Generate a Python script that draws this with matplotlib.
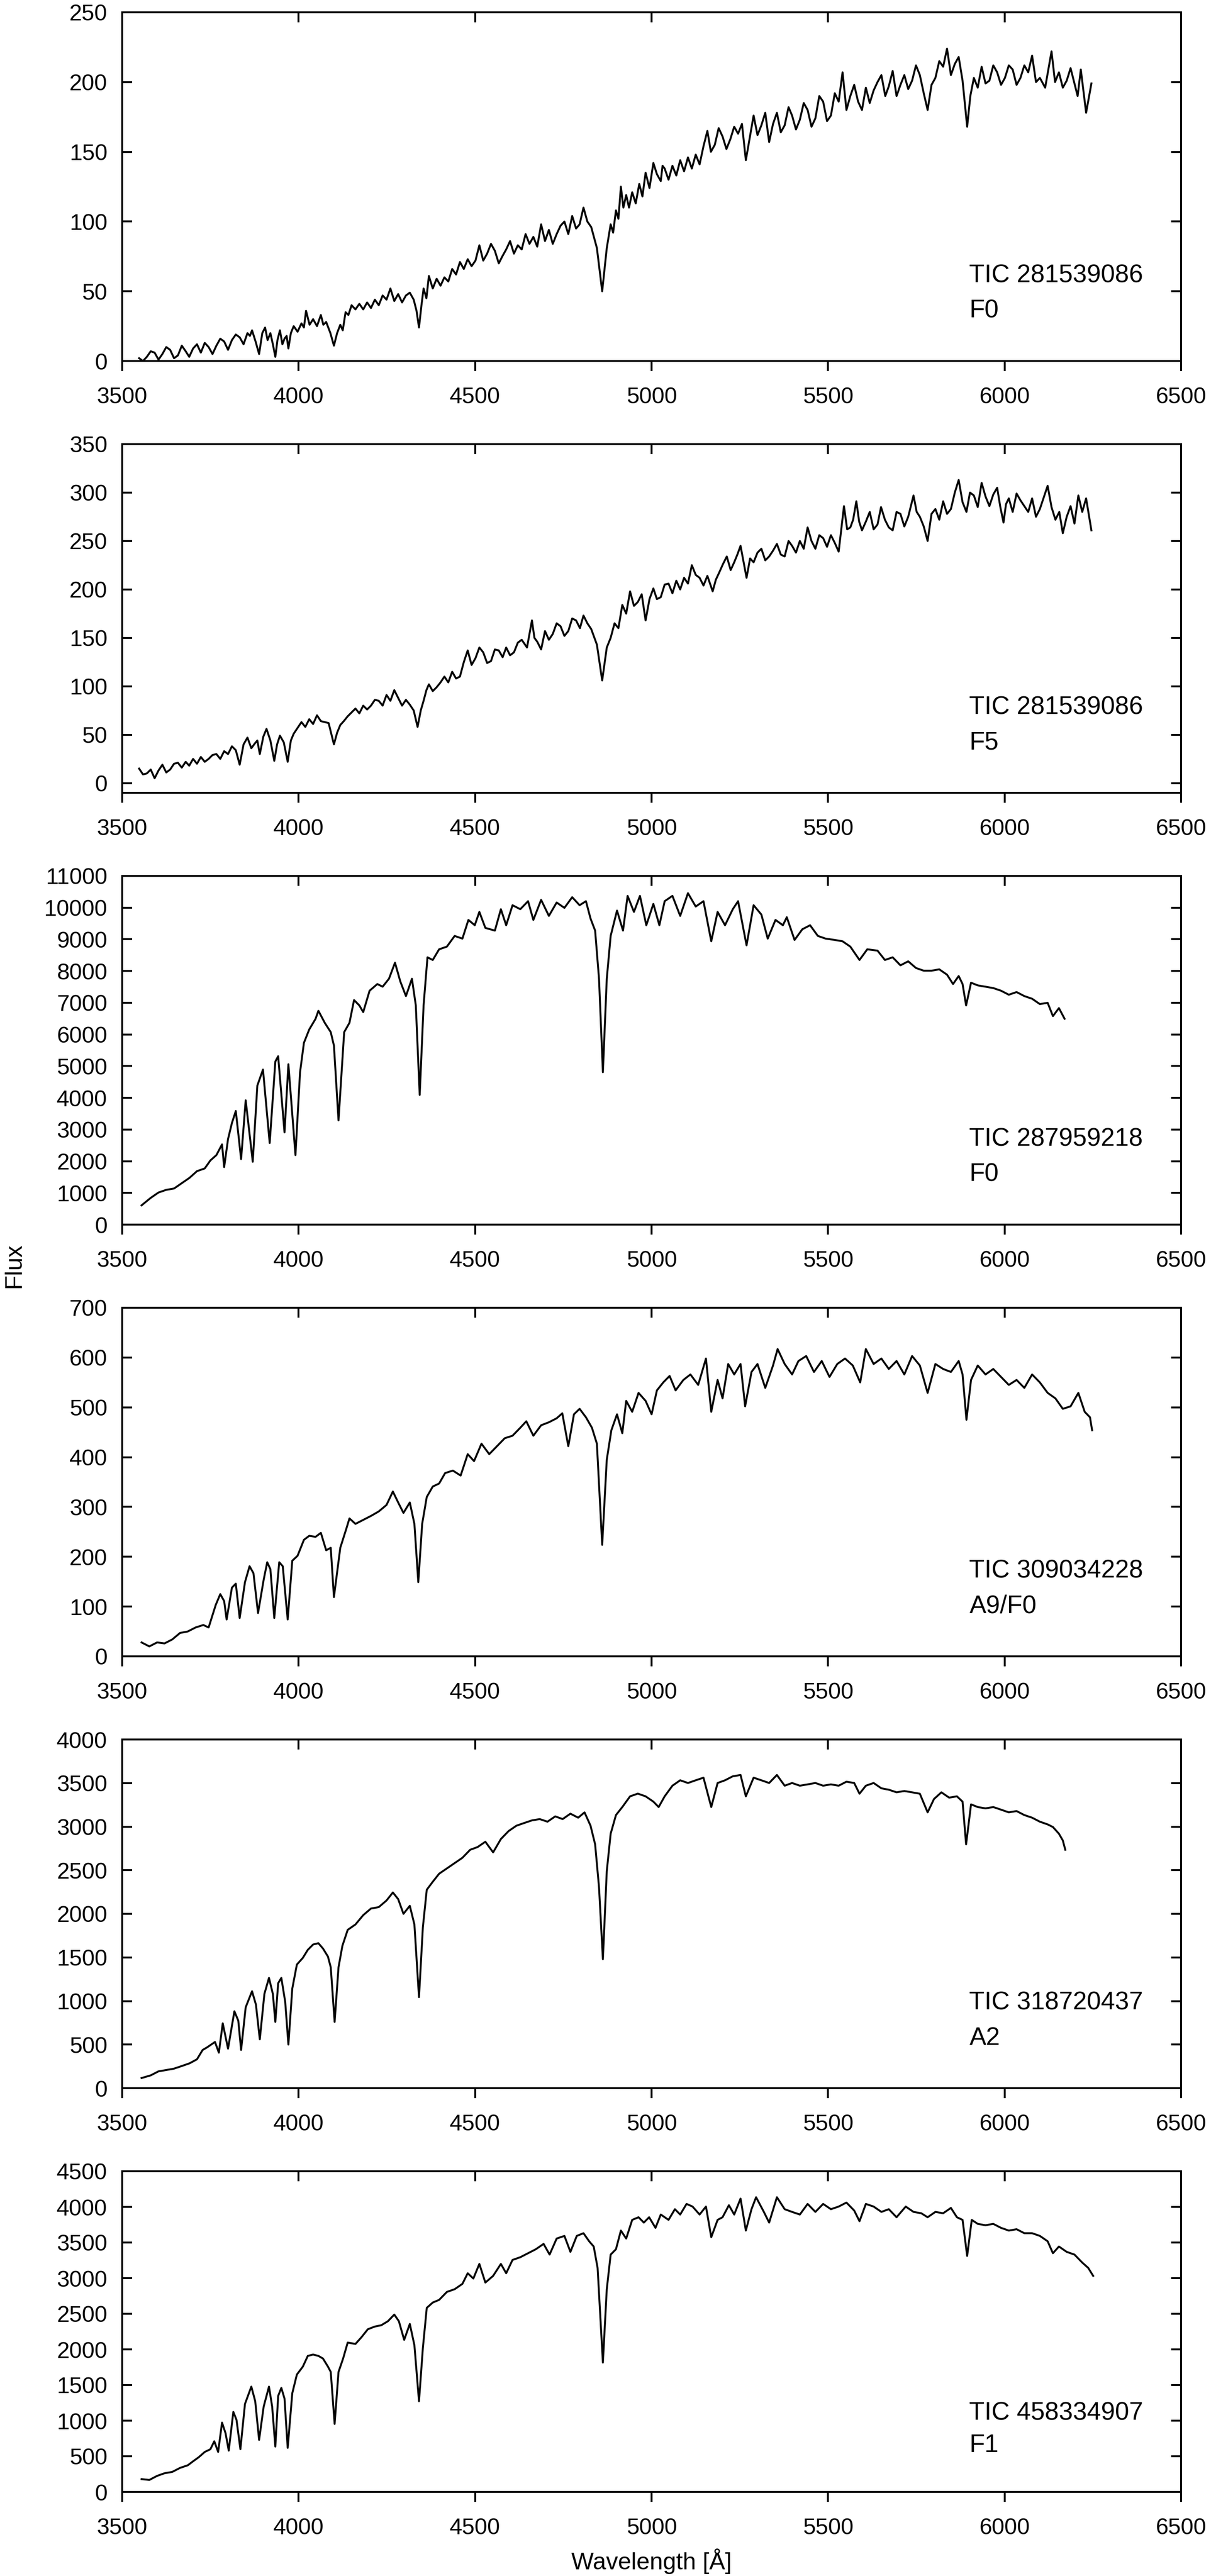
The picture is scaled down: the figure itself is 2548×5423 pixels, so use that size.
import matplotlib
matplotlib.use("Agg")
import matplotlib.pyplot as plt

# ---------------- Data ----------------
XTICKS = [3500, 4000, 4500, 5000, 5500, 6000, 6500]

wave_1 = [3548, 3559, 3570, 3581, 3592, 3603, 3614, 3625, 3636, 3647,
          3658, 3669, 3680, 3690, 3701, 3712, 3723, 3734, 3745, 3756,
          3767, 3778, 3789, 3800, 3811, 3822, 3833, 3844, 3855, 3862,
          3868, 3878, 3888, 3897, 3905, 3912, 3920, 3927, 3934, 3940,
          3947, 3954, 3960, 3966, 3971, 3978, 3986, 3997, 4008, 4015,
          4021, 4031, 4041, 4052, 4063, 4070, 4078, 4090, 4100, 4109,
          4118, 4125, 4133, 4141, 4150, 4161, 4172, 4183, 4194, 4205,
          4216, 4227, 4238, 4249, 4260, 4271, 4282, 4293, 4304, 4315,
          4326, 4334, 4341, 4348, 4354, 4362, 4369, 4380, 4391, 4402,
          4413, 4424, 4435, 4446, 4457, 4468, 4479, 4490, 4501, 4512,
          4523, 4534, 4545, 4556, 4567, 4577, 4588, 4599, 4610, 4621,
          4632, 4643, 4654, 4665, 4676, 4687, 4698, 4709, 4720, 4731,
          4742, 4753, 4764, 4775, 4786, 4796, 4807, 4818, 4829, 4845,
          4860, 4873, 4884, 4891, 4899, 4906, 4913, 4920, 4928, 4936,
          4945, 4955, 4965, 4974, 4983, 4994, 5005, 5015, 5026, 5031,
          5037, 5048, 5059, 5070, 5081, 5092, 5103, 5114, 5125, 5136,
          5147, 5158, 5168, 5179, 5190, 5201, 5212, 5223, 5234, 5245,
          5256, 5267, 5278, 5289, 5300, 5311, 5322, 5333, 5344, 5355,
          5366, 5377, 5388, 5398, 5409, 5420, 5431, 5442, 5453, 5464,
          5475, 5486, 5497, 5508, 5519, 5530, 5541, 5552, 5563, 5574,
          5585, 5596, 5607, 5618, 5629, 5640, 5651, 5662, 5672, 5683,
          5694, 5705, 5716, 5727, 5738, 5749, 5760, 5771, 5782, 5793,
          5804, 5815, 5826, 5837, 5848, 5859, 5870, 5881, 5894, 5903,
          5913, 5924, 5935, 5946, 5957, 5968, 5979, 5990, 6001, 6012,
          6023, 6034, 6045, 6056, 6067, 6078, 6089, 6100, 6115, 6133,
          6143, 6154, 6165, 6176, 6187, 6198, 6207, 6216, 6231, 6246]
flux_1 = [2, 0, 3, 7, 6, 1, 5, 10, 8, 2,
          4, 11, 7, 3, 9, 12, 6, 13, 10, 5,
          11, 16, 14, 8, 15, 19, 17, 12, 20, 18,
          22, 14, 5, 20, 24, 15, 20, 12, 3, 15,
          22, 12, 16, 18, 9, 20, 25, 21, 27, 24,
          36, 26, 30, 25, 33, 26, 28, 20, 11, 20,
          26, 22, 35, 33, 40, 37, 41, 37, 42, 38,
          44, 40, 47, 44, 52, 43, 48, 42, 47, 49,
          44, 36, 24, 40, 52, 45, 61, 52, 59, 54,
          60, 57, 66, 62, 71, 66, 73, 68, 72, 83,
          72, 77, 84, 79, 70, 75, 80, 86, 77, 83,
          80, 91, 84, 89, 82, 98, 86, 94, 84, 91,
          97, 100, 91, 104, 95, 98, 110, 100, 96, 81,
          50, 81, 98, 92, 108, 102, 125, 110, 119, 110,
          121, 113, 127, 118, 135, 124, 142, 134, 129, 140,
          138, 130, 140, 133, 144, 136, 146, 138, 148, 141,
          154, 165, 150, 155, 167, 161, 152, 159, 168, 163,
          170, 144, 160, 176, 162, 169, 178, 157, 170, 178,
          164, 169, 182, 176, 166, 173, 185, 180, 168, 174,
          190, 186, 172, 176, 192, 186, 207, 180, 190, 198,
          186, 180, 196, 185, 194, 200, 205, 190, 197, 208,
          190, 198, 205, 195, 201, 212, 205, 192, 180, 198,
          203, 215, 211, 224, 205, 213, 218, 201, 168, 190,
          203, 196, 211, 199, 201, 212, 207, 198, 203, 212,
          209, 198, 203, 212, 207, 219, 200, 203, 196, 222,
          200, 207, 196, 201, 210, 199, 190, 209, 178, 199]

wave_2 = [3548, 3559, 3570, 3581, 3592, 3603, 3614, 3625, 3636, 3647,
          3658, 3669, 3680, 3690, 3701, 3712, 3723, 3734, 3745, 3756,
          3767, 3778, 3789, 3800, 3811, 3822, 3833, 3844, 3855, 3866,
          3876, 3883, 3890, 3900, 3909, 3920, 3931, 3939, 3947, 3958,
          3969, 3978, 3986, 3997, 4008, 4019, 4030, 4041, 4052, 4063,
          4074, 4085, 4100, 4109, 4118, 4128, 4139, 4150, 4161, 4172,
          4183, 4194, 4205, 4216, 4227, 4238, 4249, 4260, 4271, 4282,
          4293, 4304, 4315, 4326, 4337, 4346, 4354, 4362, 4369, 4380,
          4391, 4402, 4413, 4424, 4435, 4446, 4457, 4468, 4479, 4490,
          4501, 4512, 4523, 4534, 4545, 4556, 4567, 4578, 4588, 4599,
          4610, 4621, 4632, 4647, 4661, 4668, 4676, 4687, 4698, 4709,
          4720, 4731, 4742, 4753, 4764, 4775, 4786, 4797, 4807, 4818,
          4829, 4845, 4860, 4873, 4884, 4895, 4906, 4917, 4928, 4939,
          4950, 4961, 4972, 4983, 4994, 5005, 5015, 5026, 5037, 5048,
          5059, 5070, 5081, 5092, 5103, 5114, 5125, 5136, 5147, 5158,
          5173, 5182, 5191, 5202, 5213, 5224, 5234, 5243, 5252, 5269,
          5279, 5289, 5300, 5311, 5322, 5333, 5344, 5355, 5366, 5377,
          5388, 5398, 5409, 5420, 5431, 5442, 5453, 5464, 5475, 5486,
          5497, 5508, 5519, 5530, 5545, 5554, 5563, 5571, 5580, 5588,
          5596, 5607, 5618, 5629, 5640, 5650, 5661, 5672, 5683, 5694,
          5705, 5716, 5727, 5742, 5751, 5760, 5771, 5782, 5793, 5804,
          5815, 5826, 5837, 5848, 5859, 5870, 5881, 5892, 5902, 5913,
          5924, 5935, 5946, 5957, 5968, 5979, 5988, 5997, 6004, 6012,
          6023, 6034, 6045, 6056, 6067, 6078, 6089, 6100, 6111, 6122,
          6133, 6144, 6155, 6165, 6176, 6187, 6198, 6209, 6220, 6231,
          6246]
flux_2 = [15, 9, 10, 14, 5, 13, 19, 11, 14, 20,
          21, 16, 22, 18, 25, 20, 27, 22, 25, 29,
          30, 25, 33, 30, 38, 34, 19, 40, 47, 36,
          41, 44, 30, 48, 56, 44, 23, 40, 49, 42,
          22, 44, 51, 57, 63, 58, 66, 61, 70, 64,
          63, 62, 40, 52, 60, 64, 69, 73, 77, 72,
          80, 76, 80, 86, 85, 80, 91, 85, 96, 88,
          80, 86, 81, 75, 58, 75, 85, 96, 102, 95,
          99, 104, 110, 104, 115, 108, 110, 125, 137, 122,
          129, 140, 135, 124, 126, 138, 137, 130, 140, 132,
          135, 145, 148, 140, 168, 150, 146, 138, 157, 148,
          154, 165, 162, 152, 157, 170, 168, 160, 173, 165,
          159, 143, 106, 140, 150, 165, 160, 184, 175, 198,
          183, 187, 195, 168, 190, 201, 190, 192, 205, 206,
          196, 209, 200, 212, 206, 225, 215, 212, 204, 214,
          198, 210, 217, 226, 234, 220, 228, 236, 245, 212,
          232, 228, 238, 242, 230, 234, 240, 247, 236, 234,
          250, 245, 238, 250, 242, 264, 250, 242, 256, 253,
          244, 256, 248, 239, 286, 262, 264, 272, 291, 270,
          261, 270, 280, 262, 267, 285, 272, 264, 261, 280,
          278, 265, 275, 297, 280, 275, 265, 250, 278, 283,
          272, 291, 278, 283, 300, 313, 290, 280, 300, 297,
          285, 310, 296, 286, 298, 305, 285, 269, 288, 294,
          280, 299, 292, 286, 280, 294, 275, 283, 295, 307,
          285, 272, 280, 258, 275, 286, 268, 297, 280, 294,
          261]

wave_3 = [3555, 3581, 3603, 3625, 3647, 3669, 3691, 3712, 3734, 3750, 3767, 3783, 3789, 3800, 3811,
          3822, 3837, 3850, 3870, 3883, 3899, 3918, 3934, 3942, 3960, 3971, 3991, 4004, 4015, 4030,
          4048, 4056, 4074, 4091, 4100, 4113, 4129, 4144, 4157, 4172, 4183, 4201, 4223, 4238, 4256,
          4273, 4288, 4304, 4321, 4332, 4343, 4354, 4365, 4380, 4398, 4420, 4442, 4464, 4481, 4499,
          4512, 4529, 4556, 4573, 4588, 4606, 4628, 4650, 4665, 4687, 4709, 4731, 4753, 4775, 4796,
          4814, 4827, 4840, 4851, 4862, 4873, 4884, 4902, 4919, 4932, 4950, 4967, 4985, 5005, 5022,
          5037, 5059, 5081, 5103, 5125, 5147, 5169, 5187, 5208, 5230, 5245, 5269, 5289, 5311, 5329,
          5351, 5372, 5383, 5405, 5427, 5449, 5471, 5493, 5519, 5541, 5563, 5589, 5611, 5640, 5661,
          5683, 5705, 5727, 5749, 5771, 5793, 5815, 5837, 5854, 5870, 5881, 5891, 5905, 5924, 5946,
          5968, 5990, 6012, 6034, 6056, 6078, 6100, 6122, 6137, 6154, 6170]
flux_3 = [607, 843, 1012, 1096, 1138, 1307, 1476, 1686, 1771, 2024, 2192, 2530, 1813, 2698, 3204,
          3584, 2066, 3921, 1982, 4385, 4891, 2572, 5144, 5312, 2909, 5059, 2192, 4806, 5734, 6155,
          6493, 6746, 6366, 6071, 5649, 3288, 6071, 6366, 7083, 6914, 6703, 7378, 7589, 7505, 7757,
          8263, 7673, 7209, 7757, 6914, 4090, 6914, 8432, 8348, 8685, 8769, 9107, 9022, 9612, 9444,
          9865, 9360, 9275, 9950, 9444, 10076, 9950, 10203, 9612, 10245, 9739, 10161, 9992, 10329, 10076,
          10203, 9655, 9275, 7757, 4806, 7757, 9107, 9907, 9275, 10371, 9865, 10371, 9444, 10118, 9444,
          10203, 10371, 9739, 10456, 10034, 10203, 8938, 9865, 9444, 9950, 10203, 8811, 10076, 9781, 9022,
          9612, 9444, 9697, 8980, 9317, 9444, 9107, 9022, 8980, 8938, 8769, 8348, 8685, 8643, 8348,
          8432, 8179, 8306, 8095, 8010, 8010, 8053, 7884, 7589, 7842, 7589, 6914, 7631, 7547, 7505,
          7462, 7378, 7252, 7336, 7209, 7125, 6956, 6998, 6577, 6830, 6493]

wave_4 = [3555, 3577, 3599, 3620, 3642, 3664, 3686, 3708, 3730, 3745, 3765, 3778, 3789, 3796, 3811,
          3822, 3833, 3848, 3861, 3872, 3885, 3901, 3911, 3920, 3931, 3945, 3955, 3969, 3982, 3997,
          4015, 4030, 4048, 4063, 4078, 4091, 4100, 4118, 4135, 4144, 4161, 4183, 4205, 4227, 4249,
          4267, 4282, 4297, 4315, 4328, 4339, 4350, 4363, 4380, 4398, 4415, 4437, 4459, 4479, 4497,
          4518, 4540, 4562, 4584, 4606, 4628, 4645, 4665, 4687, 4709, 4731, 4747, 4764, 4780, 4796,
          4814, 4831, 4845, 4860, 4873, 4886, 4902, 4917, 4928, 4945, 4963, 4983, 5000, 5015, 5033,
          5051, 5068, 5090, 5110, 5132, 5154, 5169, 5187, 5201, 5217, 5234, 5252, 5265, 5283, 5300,
          5322, 5344, 5357, 5377, 5398, 5416, 5438, 5460, 5482, 5504, 5526, 5548, 5570, 5591, 5607,
          5629, 5651, 5672, 5694, 5716, 5738, 5760, 5782, 5804, 5826, 5848, 5870, 5881, 5892, 5905,
          5924, 5946, 5968, 5990, 6012, 6034, 6056, 6078, 6100, 6122, 6144, 6165, 6187, 6209, 6227,
          6242, 6248]
flux_4 = [28, 20, 28, 26, 34, 47, 50, 58, 63, 58, 103, 125, 111, 74, 138,
          146, 77, 149, 181, 167, 87, 154, 189, 175, 77, 189, 181, 74, 192, 202,
          234, 242, 240, 248, 213, 218, 119, 218, 256, 277, 266, 274, 282, 291, 304,
          331, 309, 288, 309, 266, 149, 266, 320, 341, 347, 368, 373, 363, 406, 392,
          427, 406, 422, 438, 443, 459, 472, 443, 464, 470, 478, 488, 422, 486, 497,
          480, 459, 427, 224, 395, 454, 486, 448, 513, 491, 529, 513, 486, 534, 550,
          563, 534, 555, 566, 545, 598, 491, 555, 518, 587, 566, 587, 502, 571, 587,
          539, 584, 617, 587, 566, 593, 603, 571, 593, 561, 587, 598, 584, 550, 617,
          587, 598, 577, 593, 566, 603, 584, 529, 587, 577, 571, 593, 566, 475, 555,
          584, 566, 577, 561, 545, 555, 539, 566, 550, 529, 518, 497, 502, 529, 491,
          480, 454]

wave_5 = [3555, 3581, 3603, 3625, 3647, 3669, 3691, 3712, 3728, 3741, 3763, 3774, 3785, 3800, 3818,
          3829, 3837, 3850, 3868, 3879, 3890, 3903, 3916, 3927, 3934, 3942, 3951, 3962, 3971, 3982,
          3995, 4012, 4026, 4041, 4056, 4069, 4083, 4091, 4102, 4113, 4124, 4139, 4161, 4183, 4205,
          4227, 4249, 4267, 4282, 4297, 4315, 4328, 4341, 4352, 4363, 4380, 4398, 4420, 4442, 4464,
          4486, 4507, 4529, 4551, 4573, 4595, 4617, 4639, 4661, 4683, 4705, 4727, 4748, 4770, 4792,
          4810, 4827, 4840, 4851, 4862, 4873, 4884, 4899, 4917, 4939, 4961, 4983, 5005, 5020, 5037,
          5059, 5081, 5103, 5125, 5147, 5169, 5187, 5208, 5230, 5252, 5267, 5289, 5311, 5333, 5355,
          5377, 5398, 5420, 5442, 5464, 5486, 5508, 5530, 5552, 5574, 5589, 5607, 5629, 5651, 5672,
          5694, 5716, 5738, 5760, 5782, 5800, 5821, 5843, 5865, 5881, 5891, 5905, 5924, 5946, 5968,
          5990, 6012, 6034, 6056, 6078, 6100, 6122, 6137, 6154, 6165, 6172]
flux_5 = [116, 147, 193, 208, 224, 254, 285, 331, 438, 469, 530, 407, 744, 453, 882,
          775, 438, 928, 1112, 959, 560, 1081, 1265, 1081, 760, 1204, 1265, 989, 500, 1142,
          1418, 1495, 1587, 1648, 1663, 1602, 1510, 1387, 760, 1387, 1633, 1816, 1878, 1985, 2061,
          2077, 2153, 2245, 2169, 2000, 2092, 1878, 1044, 1847, 2276, 2368, 2460, 2521, 2582, 2643,
          2735, 2766, 2827, 2705, 2858, 2950, 3011, 3042, 3072, 3087, 3057, 3118, 3087, 3149, 3103,
          3164, 3011, 2797, 2306, 1479, 2490, 2919, 3133, 3225, 3348, 3379, 3348, 3287, 3225, 3348,
          3470, 3532, 3501, 3532, 3562, 3225, 3501, 3532, 3578, 3593, 3348, 3562, 3532, 3501, 3593,
          3470, 3501, 3470, 3485, 3501, 3470, 3485, 3470, 3516, 3501, 3378, 3470, 3501, 3440, 3424,
          3394, 3409, 3394, 3378, 3164, 3317, 3394, 3333, 3348, 3287, 2797, 3256, 3225, 3210, 3225,
          3195, 3164, 3179, 3133, 3103, 3057, 3026, 2996, 2919, 2842, 2735]

wave_6 = [3555, 3577, 3599, 3620, 3642, 3664, 3686, 3701, 3717, 3734, 3750, 3761, 3772, 3783, 3793,
          3802, 3815, 3824, 3835, 3848, 3866, 3877, 3888, 3901, 3916, 3925, 3934, 3942, 3951, 3960,
          3969, 3982, 3995, 4012, 4026, 4041, 4056, 4069, 4083, 4091, 4102, 4113, 4126, 4139, 4161,
          4178, 4196, 4216, 4234, 4253, 4271, 4284, 4299, 4315, 4328, 4341, 4352, 4363, 4380, 4398,
          4420, 4442, 4464, 4479, 4495, 4512, 4529, 4551, 4573, 4588, 4606, 4628, 4650, 4672, 4694,
          4711, 4731, 4753, 4770, 4788, 4807, 4823, 4836, 4847, 4862, 4873, 4884, 4899, 4913, 4928,
          4945, 4963, 4978, 4993, 5011, 5026, 5048, 5066, 5081, 5099, 5116, 5136, 5154, 5169, 5187,
          5201, 5219, 5234, 5252, 5267, 5283, 5296, 5318, 5333, 5355, 5377, 5398, 5420, 5442, 5464,
          5486, 5508, 5530, 5552, 5574, 5589, 5607, 5629, 5651, 5672, 5694, 5720, 5742, 5764, 5782,
          5804, 5826, 5848, 5865, 5881, 5894, 5907, 5924, 5946, 5968, 5990, 6012, 6034, 6056, 6078,
          6100, 6122, 6137, 6154, 6176, 6198, 6220, 6237, 6251]
flux_6 = [180, 168, 225, 262, 281, 337, 374, 430, 487, 561, 599, 711, 561, 973, 823,
          580, 1123, 1011, 599, 1235, 1478, 1273, 730, 1198, 1478, 1198, 636, 1347, 1460, 1310,
          618, 1385, 1647, 1759, 1909, 1928, 1909, 1872, 1759, 1684, 954, 1684, 1872, 2096, 2077,
          2171, 2283, 2321, 2339, 2396, 2489, 2396, 2134, 2358, 2059, 1273, 2021, 2583, 2658, 2695,
          2807, 2845, 2920, 3069, 2995, 3200, 2938, 3032, 3200, 3069, 3256, 3294, 3350, 3406, 3481,
          3331, 3556, 3593, 3369, 3593, 3631, 3518, 3444, 3144, 1815, 2845, 3331, 3406, 3668, 3556,
          3818, 3855, 3780, 3855, 3706, 3893, 3818, 3968, 3893, 4042, 4005, 3893, 4005, 3575, 3818,
          3855, 4024, 3893, 4117, 3668, 3968, 4136, 3930, 3780, 4136, 3968, 3930, 3893, 4042, 3930,
          4042, 3968, 4005, 4061, 3949, 3799, 4042, 4005, 3930, 3968, 3855, 4005, 3930, 3911, 3855,
          3930, 3911, 3986, 3855, 3818, 3312, 3818, 3762, 3743, 3762, 3706, 3668, 3687, 3631, 3631,
          3593, 3518, 3350, 3444, 3369, 3331, 3219, 3144, 3032]

names = ["TIC 281539086", "TIC 281539086", "TIC 287959218",
         "TIC 309034228", "TIC 318720437", "TIC 458334907"]
sptypes = ["F0", "F5", "F0", "A9/F0", "A2", "F1"]
ylims = [(0, 250), (-10, 350), (0, 11000), (0, 700), (0, 4000), (0, 4500)]
ysteps = [50, 50, 1000, 100, 500, 500]

waves = [wave_1, wave_2, wave_3, wave_4, wave_5, wave_6]
fluxes = [flux_1, flux_2, flux_3, flux_4, flux_5, flux_6]

# ---------------- Figure ----------------
plt.rcParams['font.family'] = ['Liberation Sans', 'DejaVu Sans']

W, H = 2548, 5423
fig = plt.figure(figsize=(W / 72, H / 72), dpi=72)

# panel boxes in pixels (top, bottom); last one is shorter
tops = [26, 935, 1844, 2753, 3662, 4571]
bots = [760, 1669, 2578, 3487, 4396, 5246]
x0, x1 = 257, 2485

for i in range(6):
    ax = fig.add_axes([x0 / W, 1 - bots[i] / H, (x1 - x0) / W, (bots[i] - tops[i]) / H])
    ax.plot(waves[i], fluxes[i], color="black", lw=4)

    ax.set_xlim(3500, 6500)
    ax.set_ylim(*ylims[i])
    ax.set_xticks(XTICKS)
    ax.set_yticks(list(range(0, ylims[i][1] + 1, ysteps[i])))

    for s in ax.spines.values():
        s.set_linewidth(4)
    ax.tick_params(axis="y", direction="in", left=True, right=True,
                   length=21, width=4, labelsize=48, pad=31)
    ax.tick_params(axis="x", direction="out", bottom=True, top=False,
                   length=21, width=4, labelsize=48, pad=33)

    # top ticks point inward, bottom ones outward
    top = ax.secondary_xaxis("top")
    top.set_xticks(XTICKS)
    top.tick_params(direction="in", length=21, width=4, labeltop=False)
    top.spines["top"].set_linewidth(4)

    ax.text(0.8, 0.225, names[i], transform=ax.transAxes,
            fontsize=53, va="baseline", ha="left")
    ax.text(0.8, 0.124, sptypes[i], transform=ax.transAxes,
            fontsize=53, va="baseline", ha="left")

fig.text(7 / W, 1 - 2664 / H, "Flux", rotation=90, fontsize=50,
         ha="left", va="center")
fig.text(1371 / W, 1 - 5409 / H, "Wavelength [Å]", fontsize=50,
         ha="center", va="baseline")

fig.savefig("out.png", dpi=72)
